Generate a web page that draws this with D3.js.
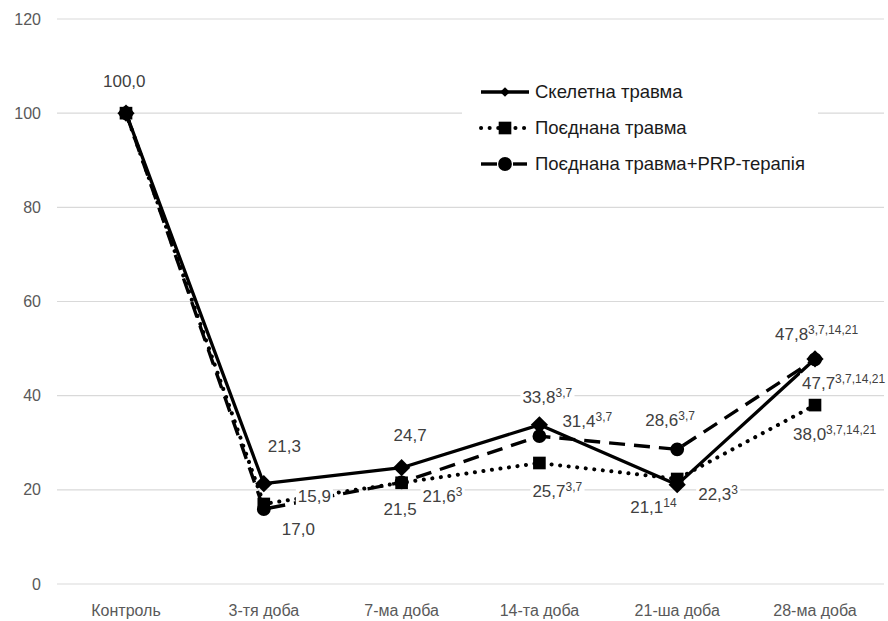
<!DOCTYPE html>
<html>
<head>
<meta charset="utf-8">
<script src="https://cdn.jsdelivr.net/npm/d3@7"></script>
<style>
  body { margin: 0; background: #fff; }
  svg { display: block; font-family: "Liberation Sans", Arial, sans-serif; }
</style>
</head>
<body>
<div id="chart"></div>
<script>
// Data
const categories = ["Контроль", "3-тя доба", "7-ма доба", "14-та доба", "21-ша доба", "28-ма доба"];
const yTicks = [0, 20, 40, 60, 80, 100, 120];

const skeletal = [100.0, 21.3, 24.7, 33.8, 21.1, 47.8];
const skeletalSup = ["", "", "", "3,7", "14", "3,7,14,21"];

const combined = [100.0, 17.0, 21.5, 25.7, 22.3, 38.0];
const combinedSup = ["", "", "", "3,7", "3", "3,7,14,21"];

const prp = [100.0, 15.9, 21.6, 31.4, 28.6, 47.7];
const prpSup = ["", "", "3", "3,7", "3,7", "3,7,14,21"];

// label placement relative to the point (left x, baseline y); control label drawn once
const skeletalLab = [[-23, -26], [4, -32], [-8, -27], [-17, -22], [-47, 28], [-40, -19]];
const combinedLab = [null, [18, 31], [-18, 32], [-7, 34], [21, 21], [-22, 35]];
const prpLab = [null, [34, -7], [21, 20], [23, -9], [-32, -23], [-13, 30]];

const width = 888;
const height = 621;

const svg = d3.select("#chart").append("svg")
    .attr("width", width)
    .attr("height", height);

const x = d3.scalePoint()
    .domain(categories)
    .range([126, 815]);

const y = d3.scaleLinear()
    .domain([0, 120])
    .range([584, 19]);

// gridlines
svg.append("g")
    .selectAll("line")
    .data(yTicks)
    .join("line")
    .attr("x1", 57)
    .attr("x2", 884)
    .attr("y1", d => y(d))
    .attr("y2", d => y(d))
    .attr("stroke", "#d9d9d9")
    .attr("stroke-width", 1.2);

// y tick labels
svg.append("g")
    .selectAll("text")
    .data(yTicks)
    .join("text")
    .attr("x", 41)
    .attr("y", d => y(d))
    .attr("dy", "0.35em")
    .attr("text-anchor", "end")
    .attr("fill", "#595959")
    .attr("font-size", "16px")
    .text(d => d);

// x labels
svg.append("g")
    .selectAll("text")
    .data(categories)
    .join("text")
    .attr("x", d => x(d))
    .attr("y", 616)
    .attr("text-anchor", "middle")
    .attr("fill", "#595959")
    .attr("font-size", "16px")
    .text(d => d);

const series = [
    { name: "Скелетна травма", values: skeletal, sup: skeletalSup, lab: skeletalLab,
      dash: null, cap: "butt", width: 3.3, marker: "diamond" },
    { name: "Поєднана травма", values: combined, sup: combinedSup, lab: combinedLab,
      dash: "0.1 8.5", cap: "round", width: 4, marker: "square" },
    { name: "Поєднана травма+PRP-терапія", values: prp, sup: prpSup, lab: prpLab,
      dash: "16 9", cap: "butt", width: 3.4, marker: "circle" }
];

const line = d3.line()
    .x((d, i) => x(categories[i]))
    .y(d => y(d));

function markerPath(type) {
    if (type === "diamond") return d3.symbol().type(d3.symbolDiamond2).size(190)();
    if (type === "square") return d3.symbol().type(d3.symbolSquare).size(160)();
    return d3.symbol().type(d3.symbolCircle).size(150)();
}

// lines, drawn bottom to top
[2, 1, 0].forEach(k => {
    const s = series[k];
    svg.append("path")
        .datum(s.values)
        .attr("fill", "none")
        .attr("stroke", "#000")
        .attr("stroke-width", s.width)
        .attr("stroke-linecap", s.cap)
        .attr("stroke-linejoin", "round")
        .attr("stroke-dasharray", s.dash)
        .attr("d", line);
});

// markers
[2, 1, 0].forEach(k => {
    const s = series[k];
    svg.append("g")
        .selectAll("path")
        .data(s.values)
        .join("path")
        .attr("transform", (d, i) => `translate(${x(categories[i])},${y(d)})`)
        .attr("d", markerPath(s.marker))
        .attr("fill", "#000");
});

// data labels with white background
const labelG = svg.append("g");
series.forEach(s => {
    s.values.forEach((v, i) => {
        if (!s.lab[i]) return;
        const px = x(categories[i]) + s.lab[i][0];
        const py = y(v) + s.lab[i][1];
        const g = labelG.append("g");
        const t = g.append("text")
            .attr("x", px)
            .attr("y", py)
            .attr("fill", "#404040")
            .attr("font-size", "17px");
        t.append("tspan").text(d3.format(".1f")(v).replace(".", ","));
        if (s.sup[i]) {
            t.append("tspan")
                .attr("font-size", "12px")
                .attr("dy", "-0.5em")
                .text(s.sup[i]);
        }
        const bb = t.node().getBBox();
        g.insert("rect", "text")
            .attr("x", bb.x - 2)
            .attr("y", bb.y + 1)
            .attr("width", bb.width + 4)
            .attr("height", bb.height - 2)
            .attr("fill", "#fff");
    });
});

// legend
const legend = svg.append("g");
legend.append("rect")
    .attr("x", 462)
    .attr("y", 70)
    .attr("width", 356)
    .attr("height", 115)
    .attr("fill", "#fff");

const legendRows = [92, 128, 164];
series.forEach((s, k) => {
    const ly = legendRows[k];
    const segs = k === 2 ? [[481, 497], [513, 527]] : [[481, 529]];
    segs.forEach(([a, b]) => {
        legend.append("line")
            .attr("x1", a)
            .attr("x2", b)
            .attr("y1", ly)
            .attr("y2", ly)
            .attr("stroke", "#000")
            .attr("stroke-width", s.width)
            .attr("stroke-linecap", s.cap)
            .attr("stroke-dasharray", k === 1 ? s.dash : null);
    });
    legend.append("path")
        .attr("transform", `translate(505,${ly})`)
        .attr("d", k === 0 ? d3.symbol().type(d3.symbolDiamond2).size(60)() : markerPath(s.marker))
        .attr("fill", "#000");
    legend.append("text")
        .attr("x", 535)
        .attr("y", ly)
        .attr("dy", "0.35em")
        .attr("fill", "#1a1a1a")
        .attr("font-size", "18.5px")
        .text(s.name);
});
</script>
</body>
</html>
